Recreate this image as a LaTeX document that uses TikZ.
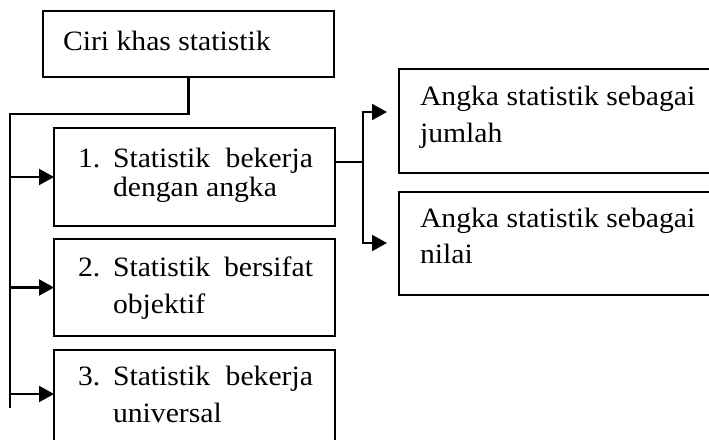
\documentclass[tikz,border=0pt]{standalone}
\usepackage{fontspec}
\setmainfont{Liberation Serif}[FakeStretch=1.06]
\usetikzlibrary{arrows.meta}
\begin{document}
\begin{tikzpicture}[x=1pt,y=-1pt,
  box/.style={draw, line width=2.1pt, inner sep=0pt, outer sep=0pt},
  txt/.style={anchor=base west, inner sep=0pt, outer sep=0pt, font=\fontsize{28}{32}\selectfont},
  conn/.style={line width=2.1pt},
  arr/.style={line width=2.1pt, -{Triangle[length=15pt,width=16pt]}}]
\useasboundingbox (0,0) rectangle (709,439);
\clip (0,0) rectangle (709,439);

% boxes (corner to corner)
\node[box, minimum width=291pt, minimum height=66pt] (top) at (188.5,44) {};
\node[box, minimum width=281pt, minimum height=98pt] (b1) at (194.5,177) {};
\node[box, minimum width=281pt, minimum height=97pt] (b2) at (194.5,287.5) {};
\node[box, minimum width=281pt, minimum height=100pt] (b3) at (194.5,400) {};
\node[box, minimum width=330pt, minimum height=104pt] (bA) at (564,121) {};
\node[box, minimum width=330pt, minimum height=103pt] (bB) at (564,243.5) {};

% texts
\node[txt] (tTop) at (63,50) {Ciri khas statistik};
\node[txt] (n1) at (78,167) {1.};
\node[txt] (t1a) at (113,167) {\hbox to 200pt{Statistik\hfill bekerja}};
\node[txt] (t1b) at (113,196) {dengan angka};
\node[txt] (n2) at (78,276) {2.};
\node[txt] (t2a) at (113,276) {\hbox to 200pt{Statistik\hfill bersifat}};
\node[txt] (t2b) at (113,313) {objektif};
\node[txt] (n3) at (78,385) {3.};
\node[txt] (t3a) at (113,385) {\hbox to 200pt{Statistik\hfill bekerja}};
\node[txt] (t3b) at (113,422) {universal};
\node[txt] (tAa) at (420,105) {Angka statistik sebagai};
\node[txt] (tAb) at (420,142) {jumlah};
\node[txt] (tBa) at (420,227) {Angka statistik sebagai};
\node[txt] (tBb) at (420,263) {nilai};

% left trunk and branches
\coordinate (trunk) at (10,114);
\coordinate (trunkend) at (10,408);
\coordinate (a3) at (10,394);
\draw[conn] (top.south) |- (trunk) -- (trunkend);
\draw[arr] (trunk |- b1.west) -- (b1.west);
\draw[arr] (trunk |- b2.west) -- (b2.west);
\draw[arr] (a3) -- (a3 -| b3.west);

% right fork
\coordinate (fork) at (363,162);
\coordinate (jA) at (387,112);
\coordinate (jB) at (387,243);
\draw[conn] (fork -| b1.east) -- (fork);
\draw[arr] (fork) |- (jA);
\draw[arr] (fork) |- (jB);
\end{tikzpicture}
\end{document}
